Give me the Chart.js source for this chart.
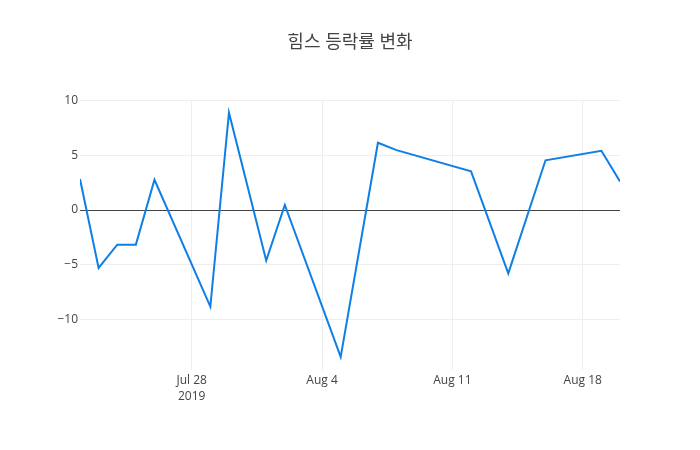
<!DOCTYPE html>
<html>
<head>
<meta charset="utf-8">
<script src="https://cdn.jsdelivr.net/npm/chart.js@4"></script>
<style>
  body { margin: 0; background: #fff; }
  canvas { display: block; }
</style>
</head>
<body>
<canvas id="myChart" width="700" height="450"></canvas>
<script>
// 힘스 daily change (%), trading days only
var dates = ["2019-07-22","2019-07-23","2019-07-24","2019-07-25","2019-07-26",
             "2019-07-29","2019-07-30","2019-08-01","2019-08-02","2019-08-05",
             "2019-08-07","2019-08-08","2019-08-12","2019-08-14","2019-08-16",
             "2019-08-19","2019-08-20"];
var changes = [2.83, -5.28, -3.16, -3.16, 2.76,
               -8.82, 8.88, -4.61, 0.46, -13.4,
               6.14, 5.47, 3.53, -5.78, 4.54,
               5.41, 2.61];
var xTickDates = ["2019-07-28","2019-08-04","2019-08-11","2019-08-18"];
var yTicks = [-10, -5, 0, 5, 10];

var monthNames = ["Jan","Feb","Mar","Apr","May","Jun","Jul","Aug","Sep","Oct","Nov","Dec"];
var baseDay = Date.UTC(2019, 6, 28);

// convert date string to day offset from Jul 28
function toDay(s) {
  var p = s.split("-");
  return (Date.UTC(+p[0], +p[1] - 1, +p[2]) - baseDay) / 86400000;
}

var points = dates.map(function(d, i) { return { x: toDay(d), y: changes[i] }; });
var xTicks = xTickDates.map(toDay);

function dayLabel(v) {
  var d = new Date(baseDay + v * 86400000);
  var txt = monthNames[d.getUTCMonth()] + " " + d.getUTCDate();
  if (v === xTicks[0]) return [txt, String(d.getUTCFullYear())];
  return txt;
}

var fontFamily = '"Open Sans", "Noto Sans CJK KR", sans-serif';

new Chart("myChart", {
  type: "line",
  data: {
    datasets: [{
      data: points,
      borderColor: "#0f7fe6",
      borderWidth: 2,
      pointRadius: 0,
      fill: false,
      tension: 0
    }]
  },
  options: {
    responsive: false,
    animation: false,
    layout: { padding: 0 },
    plugins: {
      legend: { display: false },
      tooltip: { enabled: false },
      title: {
        display: true,
        text: "힘스 등락률 변화",
        color: "#444",
        font: { family: fontFamily, size: 18, weight: "normal", lineHeight: 1.2 },
        padding: { top: 32, bottom: 47.4 }
      }
    },
    scales: {
      x: {
        type: "linear",
        min: toDay(dates[0]),
        max: toDay(dates[dates.length - 1]),
        border: { display: false },
        grid: { color: "#eee", drawTicks: false },
        afterBuildTicks: function(axis) {
          axis.ticks = xTicks.map(function(v) { return { value: v }; });
        },
        afterFit: function(axis) { axis.height = 80; },
        ticks: {
          color: "#444",
          padding: 2,
          maxRotation: 0,
          autoSkip: false,
          font: { family: fontFamily, size: 12, lineHeight: 1.35 },
          callback: function(v) { return dayLabel(v); }
        }
      },
      y: {
        min: -14.6,
        max: 9.95,
        border: { display: false },
        grid: {
          drawTicks: false,
          color: function(ctx) { return ctx.tick && ctx.tick.value === 0 ? "#444" : "#eee"; }
        },
        afterBuildTicks: function(axis) {
          axis.ticks = yTicks.map(function(v) { return { value: v }; });
        },
        afterFit: function(axis) { axis.width = 80; },
        ticks: {
          color: "#444",
          padding: 2,
          font: { family: fontFamily, size: 12 },
          callback: function(v) { return String(v).replace("-", "\u2212"); }
        }
      },
      // empty right margin so the title stays centred on the page
      yRight: {
        position: "right",
        display: true,
        border: { display: false },
        grid: { display: false },
        ticks: { display: false },
        afterFit: function(axis) { axis.width = 80; }
      }
    }
  }
});
</script>
</body>
</html>
